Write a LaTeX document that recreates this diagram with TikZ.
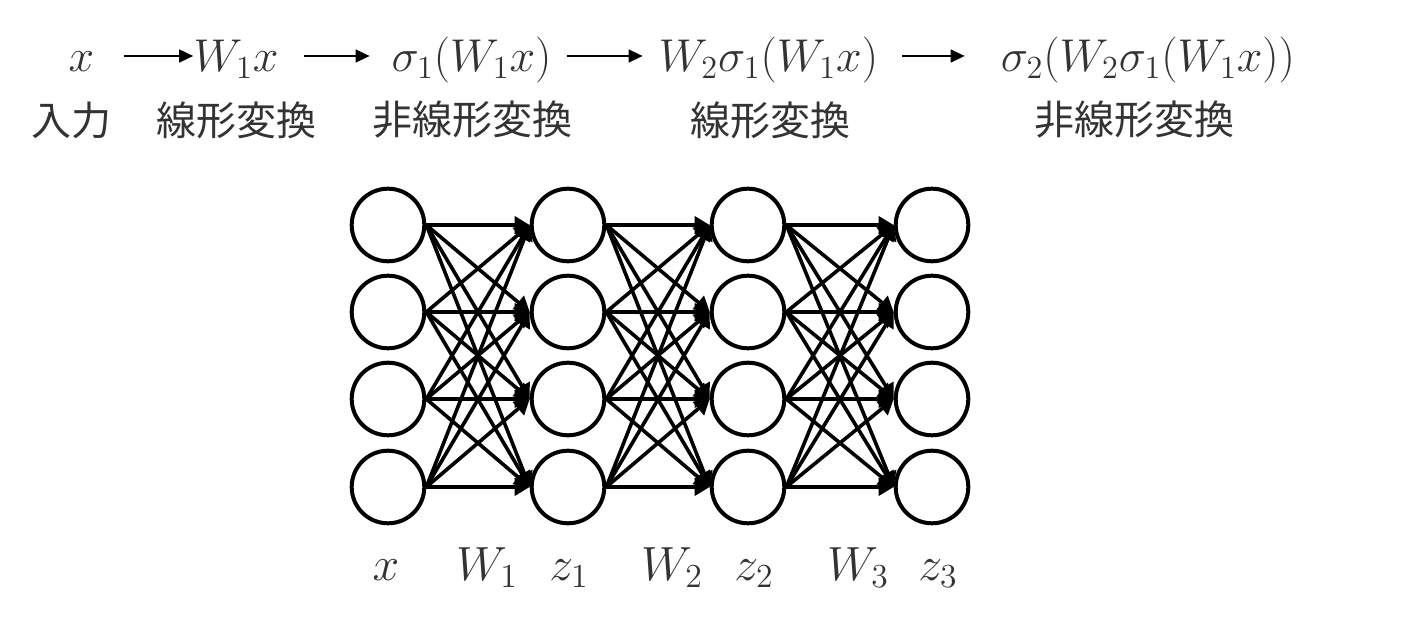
\RequirePackage{fix-cm}
\documentclass[tikz,border=0pt]{standalone}
\usepackage{amsmath}
\usepackage{fontspec}
\newfontfamily\jpfont{Noto Sans CJK JP}
\usepackage{tikz}
\usetikzlibrary{arrows.meta}
\definecolor{txt}{HTML}{333333}
\tikzstyle{neuron}=[circle, draw, line width=2pt, minimum size=36.3pt, inner sep=0pt]
\tikzstyle{link}=[line width=1.8pt, -{Triangle[length=7.5pt,width=8.5pt]}]
\tikzstyle{flow}=[line width=0.75pt, -{Triangle[length=7pt,width=6.5pt]}]
\tikzstyle{formula}=[inner sep=0pt, anchor=base, text=txt, font=\fontsize{23}{27}\selectfont]
\tikzstyle{caption}=[inner sep=0pt, text=black!80, font=\jpfont\fontsize{20}{24}\selectfont]
\tikzstyle{layer}=[inner sep=0pt, anchor=base, text=txt, font=\fontsize{24}{28}\selectfont]

\begin{document}
\begin{tikzpicture}[x=0.5pt, y=-0.5pt]
		   \useasboundingbox (0,0) rectangle (1408,630);
		   \begin{scope}
			   \node (in) at (81.5, 72)[formula, minimum width=11.5pt] {$x$};
			   \node (lin1) at (236, 72)[formula, minimum width=41pt] {$W_1x$};
			   \node (nonlin1) at (471.5, 72)[formula, minimum width=85.5pt] {$\sigma_1(W_1x)$};
			   \node (lin2) at (768.5, 72)[formula, minimum width=116.5pt] {$W_2\sigma_1(W_1x)$};
			   \node (nonlin2) at (1148, 72)[formula, minimum width=160pt] {$\sigma_2(W_2\sigma_1(W_1x))$};
		   \end{scope}
		   \begin{scope}
			   \node (tin) at (72, 120)[caption] {入力};
			   \node (tlin1) at (236, 120)[caption] {線形変換};
			   \node (tnonlin1) at (472, 120)[caption] {非線形変換};
			   \node (tlin2) at (770, 120)[caption] {線形変換};
			   \node (tnonlin2) at (1134, 120)[caption] {非線形変換};
		   \end{scope}
		   \begin{scope}
			   \path [flow, shorten <=14.5pt] ([yshift=8pt]in.base east) edge ([yshift=8pt]lin1.base west);
			   \path [flow, shorten <=12.5pt, shorten >=8pt] ([yshift=8pt]lin1.base east) edge ([yshift=8pt]nonlin1.base west);
			   \path [flow, shorten <=5pt, shorten >=4.5pt] ([yshift=8pt]nonlin1.base east) edge ([yshift=8pt]lin2.base west);
			   \path [flow, shorten <=8.5pt, shorten >=11.5pt] ([yshift=8pt]lin2.base east) edge ([yshift=8pt]nonlin2.base west);
		   \end{scope}
		   \begin{scope}
			   \foreach \c/\cx in {1/388, 2/568, 3/748, 4/932}
			   \foreach \r/\ry in {1/225, 2/312, 3/399, 4/487}
			   \node (n\c\r) at (\cx, \ry)[neuron] {};
		   \end{scope}
		   \begin{scope}
			   \foreach \c/\d in {1/2, 2/3, 3/4}
			   \foreach \r in {1,...,4}
			   \foreach \s in {1,...,4}
			   \path [link] (n\c\r.east) edge (n\d\s.west);
		   \end{scope}
		   \begin{scope}
			   \node (lx) at (386, 580)[layer] {$x$};
			   \node (lw1) at (487, 580)[layer] {$W_1$};
			   \node (lz1) at (569, 580)[layer] {$z_1$};
			   \node (lw2) at (672, 580)[layer] {$W_2$};
			   \node (lz2) at (754, 580)[layer] {$z_2$};
			   \node (lw3) at (858, 580)[layer] {$W_3$};
			   \node (lz3) at (938, 580)[layer] {$z_3$};
		   \end{scope}
	   \end{tikzpicture}
\end{document}
